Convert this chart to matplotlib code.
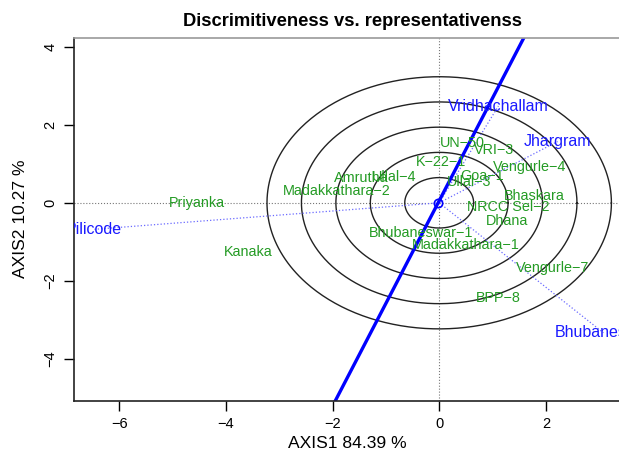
import matplotlib
matplotlib.use("Agg")
import matplotlib.pyplot as plt
import numpy as np

plt.rcParams['font.family'] = ['Liberation Sans', 'DejaVu Sans']

# genotype scores (AXIS1, AXIS2)
genotypes = ['Priyanka', 'Kanaka', 'Madakkathara\u22122', 'Amrutha', 'Ullal\u22124',
             'K\u221222\u22121', 'UN\u221250', 'VRI\u22123', 'Vengurle\u22124', 'Goa\u22121',
             'Ullal\u22123', 'Bhaskara', 'NRCC Sel\u22122', 'Dhana', 'Bhubaneswar\u22121',
             'Madakkathara\u22121', 'Vengurle\u22127', 'BPP\u22128']
gen_x = [-4.55, -3.59, -1.93, -1.47, -0.85, 0.03, 0.43, 1.03, 1.70, 0.80,
         0.56, 1.78, 1.29, 1.28, -0.34, 0.49, 2.13, 1.10]
gen_y = [0.00, -1.25, 0.31, 0.64, 0.66, 1.05, 1.53, 1.35, 0.92, 0.69,
         0.53, 0.18, -0.11, -0.46, -0.77, -1.08, -1.67, -2.44]

# environment scores
environments = ['Vridhachallam', 'Jhargram', 'Pilicode', 'Bhubaneswar']
env_x = [1.11, 2.22, -6.48, 3.08]
env_y = [2.48, 1.57, -0.68, -3.33]

# average environment coordinate and slope of the AEA line
aec_x, aec_y = -0.02, 0.0
aea_slope = 2.63
circle_step = 0.646
n_circles = 5

x_ticks = [-6, -4, -2, 0, 2]
y_ticks = [-4, -2, 0, 2, 4]

fig = plt.figure(figsize=(6.19, 4.51), dpi=100)
ax = fig.add_axes([74 / 619, 50.3 / 451, 547 / 619, 363 / 451])
ax.set_xlim(-6.85, 3.41)
ax.set_ylim(-5.07, 4.23)

# reference lines through the origin
ax.axhline(0, color='#777777', ls=':', lw=0.8)
ax.axvline(0, color='#777777', ls=':', lw=0.8)

# concentric circles
t = np.linspace(0, 2 * np.pi, 400)
for k in range(1, n_circles + 1):
    r = k * circle_step
    ax.plot(r * np.cos(t), r * np.sin(t), color='#222222', lw=1.0)

# environment vectors
for name, x, y in zip(environments, env_x, env_y):
    ax.plot([0, x], [0, y], color='#6a6aff', ls=':', lw=0.9)
    ax.text(x, y, name, color='#1a1aff', fontsize=11.5, ha='center', va='center',
            clip_on=True)

# average environment axis
xs = np.array([-7, 4])
ax.plot(xs, aea_slope * (xs - aec_x) + aec_y, color='#0000ff', lw=2.4)
ax.plot(aec_x, aec_y, 'o', mfc='none', mec='#0000ff', ms=6, mew=1.2)

for name, x, y in zip(genotypes, gen_x, gen_y):
    ax.text(x, y, name, color='#249b24', fontsize=10.4, ha='center', va='center',
            clip_on=True)

ax.set_xticks(x_ticks)
ax.set_yticks(y_ticks)
ax.tick_params(direction='out', length=7, width=1, labelsize=10.5, pad=5)
for lab in ax.get_yticklabels():
    lab.set_rotation(90)
    lab.set_va('center')

ax.spines['top'].set_color('#999999')
ax.spines['right'].set_color('#999999')
ax.spines['left'].set_color('#222222')
ax.spines['bottom'].set_color('#222222')
for s in ax.spines.values():
    s.set_linewidth(1.2)

ax.set_xlabel('AXIS1 84.39 %', fontsize=12.6, labelpad=3)
ax.set_ylabel('AXIS2 10.27 %', fontsize=12.6)
ax.yaxis.set_label_coords(-0.084, 0.5)
fig.text(352 / 619, 1 - 22 / 451, 'Discrimitiveness vs. representativenss',
         fontsize=13.2, fontweight='bold', ha='center', va='center')

fig.savefig('out.png', dpi=100)
